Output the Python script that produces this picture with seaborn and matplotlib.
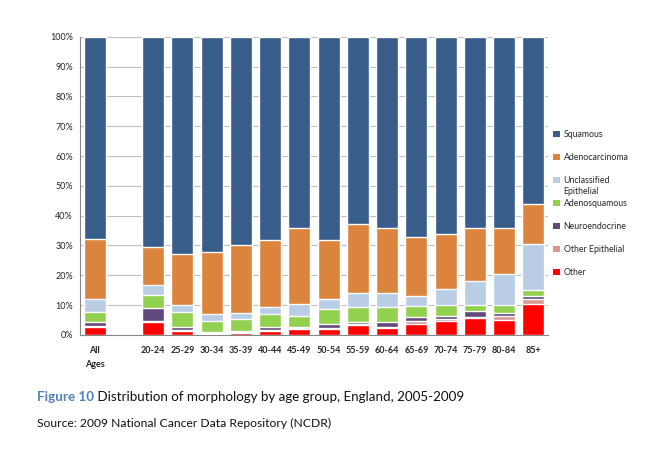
import numpy as np
import pandas as pd
import matplotlib
matplotlib.use("Agg")
import matplotlib.pyplot as plt
from matplotlib.patches import Patch
import seaborn as sns

# Age groups (blank slot between "All Ages" and the 5-year bands)
groups = ["All\nAges", "", "20-24", "25-29", "30-34", "35-39", "40-44", "45-49",
          "50-54", "55-59", "60-64", "65-69", "70-74", "75-79", "80-84", "85+"]

# Share of each morphology (%)
other = [2.6, 0, 4.4, 1.3, 0.4, 0.5, 1.4, 1.9, 2.1, 3.4, 2.3, 3.6, 4.5, 5.7, 5.1, 10.5]
other_epithelial = [0.4, 0, 0.3, 0.4, 0.2, 0.4, 0.4, 0.3, 0.3, 0.4, 0.3, 1.1, 0.7, 0.4, 1.1, 1.5]
neuroendocrine = [1.2, 0, 4.2, 1.1, 0.5, 0.5, 0.7, 0.4, 1.3, 0.5, 1.7, 1.3, 1.0, 1.8, 1.1, 0.9]
adenosquamous = [3.5, 0, 4.5, 4.8, 3.6, 3.9, 4.4, 3.6, 5.1, 5.1, 5.1, 3.6, 3.7, 2.2, 2.6, 2.0]
unclassified = [4.4, 0, 3.4, 2.3, 2.3, 2.0, 2.5, 4.0, 3.4, 4.7, 4.6, 3.6, 5.6, 8.0, 10.6, 15.5]
adenocarcinoma = [20.1, 0, 12.8, 17.3, 20.8, 22.7, 22.5, 25.7, 19.8, 23.1, 21.7, 19.5, 18.5, 17.6, 15.3, 13.5]
squamous = [67.8, 0, 70.4, 72.8, 72.2, 70.0, 68.1, 64.1, 68.0, 62.8, 64.3, 67.3, 66.0, 64.3, 64.2, 56.1]

# stacking order, bottom to top
series = [
    ("Other", other, "#FF0000"),
    ("Other Epithelial", other_epithelial, "#D99694"),
    ("Neuroendocrine", neuroendocrine, "#604A7B"),
    ("Adenosquamous", adenosquamous, "#92D050"),
    ("Unclassified", unclassified, "#B9CDE5"),
    ("Adenocarcinoma", adenocarcinoma, "#DB843D"),
    ("Squamous", squamous, "#385D8A"),
]

keys = [f"g{i}" for i in range(len(groups))]
df = pd.DataFrame({name: vals for name, vals, _ in series})
cum = df.cumsum(axis=1)
cum["key"] = keys

sns.set_style("white")
plt.rcParams["font.family"] = ["Lato", "DejaVu Sans"]

fig = plt.figure(figsize=(6.65, 4.55), dpi=100)
ax = fig.add_axes([0.1203, 0.264, 0.7037, 0.655])

# draw cumulative totals from the top down so each layer overlays the one above
for name, _, color in reversed(series):
    sns.barplot(data=cum, x="key", y=name, order=keys, color=color,
                width=0.75, saturation=1, ax=ax, zorder=3)

ax.set_xlim(-0.5, len(groups) - 0.5)
ax.set_ylim(0, 100)
ax.set_yticks(np.arange(0, 101, 10))
ax.set_yticklabels([f"{v}%" for v in range(0, 101, 10)], fontsize=6.5)
ax.set_xticks(range(len(groups)))
ax.set_xticklabels(groups, fontsize=6.5, va="top", ha="center", linespacing=1.7)
ax.set_xticks(np.arange(-0.5, len(groups), 1), minor=True)
ax.tick_params(axis="x", which="major", length=0, pad=8)
ax.tick_params(axis="x", which="minor", length=4, color="#868686", width=0.8)
ax.tick_params(axis="y", length=3, color="#868686", width=0.8, pad=2)
ax.set_xlabel("")
ax.set_ylabel("")
ax.yaxis.grid(True, color="#BFBFBF", linewidth=0.8, zorder=0)
ax.set_axisbelow(True)
for side in ["top", "right"]:
    ax.spines[side].set_visible(False)
for side in ["left", "bottom"]:
    ax.spines[side].set_color("#868686")
    ax.spines[side].set_linewidth(0.8)
for lab in ax.get_xticklabels():
    lab.set_fontweight("bold")

handles = [Patch(facecolor=c, edgecolor="none", label=n) for n, _, c in reversed(series)]
leg = fig.legend(handles=handles, loc="upper left", bbox_to_anchor=(0.827, 0.722),
                 frameon=False, fontsize=6.3, handlelength=0.75, handleheight=0.75,
                 handletextpad=0.4, labelspacing=1.6, borderaxespad=0)

# second line of the "Unclassified Epithelial" entry, hanging under the first
fig.canvas.draw()
unc = leg.get_texts()[2]
bb = unc.get_window_extent().transformed(fig.transFigure.inverted())
fig.text(bb.x0, bb.y0 - 0.004, "Epithelial", va="top", ha="left",
         fontsize=6.3, color=unc.get_color())

t1 = fig.text(0.056, 0.118, "Figure 10", color="#4F81BD", fontsize=9.6,
              fontweight="bold", va="baseline")
ax.annotate(" Distribution of morphology by age group, England, 2005-2009",
            xy=(1, 0), xycoords=t1, va="bottom", fontsize=9.6, color="#111111")
fig.text(0.056, 0.062, "Source: 2009 National Cancer Data Repository (NCDR)",
         fontsize=8.7, color="#111111", va="baseline")

fig.savefig("out.png", dpi=100)
